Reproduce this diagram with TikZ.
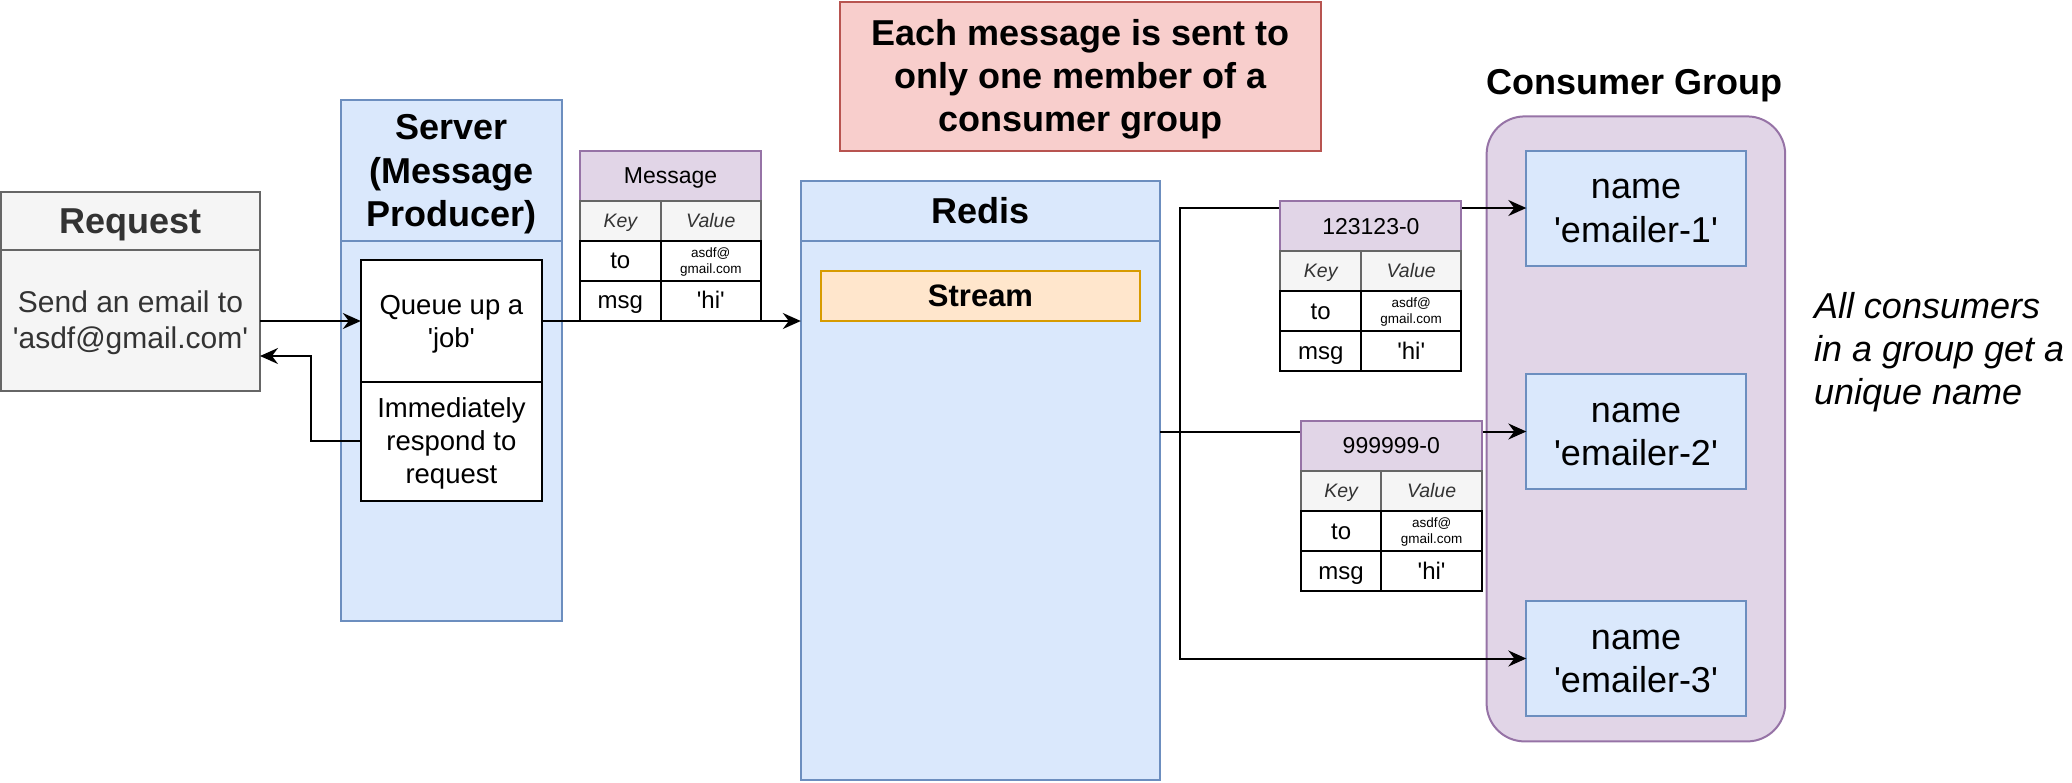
\documentclass[tikz,border=0pt]{standalone}
\usepackage{fontspec}
\newfontfamily\lsans{Liberation Sans}
\usetikzlibrary{arrows.meta}
\definecolor{grayfill}{HTML}{F5F5F5}
\definecolor{grayline}{HTML}{666666}
\definecolor{graytext}{HTML}{333333}
\definecolor{bluefill}{HTML}{DAE8FC}
\definecolor{blueline}{HTML}{6C8EBF}
\definecolor{purplefill}{HTML}{E1D5E7}
\definecolor{purpleline}{HTML}{9673A6}
\definecolor{redfill}{HTML}{F8CECC}
\definecolor{redline}{HTML}{B85450}
\definecolor{orangefill}{HTML}{FFE6CC}
\definecolor{orangeline}{HTML}{D79B00}
\tikzset{
  every node/.style={inner sep=0pt, outer sep=0pt},
  boxed/.style={draw, line width=1pt},
  grayb/.style={boxed, draw=grayline, fill=grayfill, text=graytext},
  blueb/.style={boxed, draw=blueline, fill=bluefill},
  purpleb/.style={boxed, draw=purpleline, fill=purplefill},
  redb/.style={boxed, draw=redline, fill=redfill},
  orangeb/.style={boxed, draw=orangeline, fill=orangefill},
  whiteb/.style={boxed, draw=black, fill=white},
  % text styles (line box emulation: height/depth; multi-line baseline = last line)
  tbig/.style={font=\lsans\bfseries\fontsize{18}{21.6}\selectfont, text height=17.05pt, text depth=4.55pt},
  tbigiii/.style={font=\lsans\bfseries\fontsize{18}{21.6}\selectfont, align=center, text height=60.25pt, text depth=4.55pt},
  tregii/.style={font=\lsans\fontsize{18}{21.6}\selectfont, align=center, text height=38.65pt, text depth=4.55pt},
  titiii/.style={font=\lsans\itshape\fontsize{18}{21.6}\selectfont, align=left, text height=60.25pt, text depth=4.55pt},
  tbodyii/.style={font=\lsans\fontsize{15}{18}\selectfont, align=center, text height=32.2pt, text depth=3.8pt},
  tstream/.style={font=\lsans\bfseries\fontsize{15.5}{18.6}\selectfont, text height=14.68pt, text depth=3.92pt},
  tqii/.style={font=\lsans\fontsize{13.75}{16.5}\selectfont, align=center, text height=29.52pt, text depth=3.48pt},
  tqiii/.style={font=\lsans\fontsize{13.75}{16.5}\selectfont, align=center, text height=46.02pt, text depth=3.48pt},
  thead/.style={purpleb, minimum width=90.5pt, minimum height=25pt, font=\lsans\fontsize{11.5}{13.8}\selectfont, text height=10.9pt, text depth=2.9pt},
  tkey/.style={grayb, minimum height=20pt, font=\lsans\itshape\fontsize{9.75}{11.7}\selectfont, text height=9.23pt, text depth=2.47pt},
  tcell/.style={whiteb, minimum height=20pt, font=\lsans\fontsize{12}{14.4}\selectfont, text height=11.36pt, text depth=3.04pt},
  tsmall/.style={font=\lsans\fontsize{6.75}{8.1}\selectfont, align=center, text height=14.49pt, text depth=1.71pt},
  arr/.style={line width=1pt, -{Stealth[length=9pt,width=8pt,inset=3pt]}}
}
\newcommand{\kvtable}[4]{%
  \node[thead, anchor=north west] (#1h) at (#2,#3) {#4};
  \node[tkey, minimum width=40.3pt, anchor=north west] (#1k) at (#1h.south west) {Key};
  \node[tkey, minimum width=50.2pt, anchor=north west] (#1v) at (#1k.north east) {Value};
  \node[tcell, minimum width=40.3pt, anchor=north west] (#1a) at (#1k.south west) {to};
  \node[tcell, minimum width=50.2pt, anchor=north west, tsmall] (#1b) at (#1a.north east) {asdf@\\gmail.com};
  \node[tcell, minimum width=40.3pt, anchor=north west] (#1c) at (#1a.south west) {msg};
  \node[tcell, minimum width=50.2pt, anchor=north west] (#1d) at (#1c.north east) {'hi'};
}
\begin{document}
\begin{tikzpicture}[x=1pt,y=-1pt]
\useasboundingbox (0,0) rectangle (1036,391);

% Request
\node[grayb, tbig, minimum width=129.5pt, minimum height=29pt, anchor=north west] (reqh) at (0.5,96) {Request};
\node[grayb, tbodyii, minimum width=129.5pt, minimum height=70.5pt, anchor=north west] (req) at (reqh.south west) {Send an email to\\'asdf@gmail.com'};

% Server
\node[blueb, minimum width=110.5pt, minimum height=260.3pt, anchor=north west] (srv) at (170.5,50.2) {};
\node[blueb, tbigiii, minimum width=110.5pt, minimum height=70.1pt, anchor=north west] (srvh) at (170.5,50.2) {Server\\(Message\\Producer)};
\node[whiteb, tqii, minimum width=90.6pt, minimum height=61pt, anchor=north west] (q1) at (180.4,130) {Queue up a\\'job'};
\node[whiteb, tqiii, minimum width=90.6pt, minimum height=59.4pt, anchor=north west] (q2) at (q1.south west) {Immediately\\respond to\\request};

% Note
\node[redb, tbigiii, minimum width=240.5pt, minimum height=74.5pt, anchor=north west] (note) at (420,0.75) {Each message is sent to\\only one member of a\\consumer group};

% Redis
\node[blueb, minimum width=179.6pt, minimum height=299.5pt, anchor=north west] (redis) at (400.4,90.5) {};
\node[blueb, tbig, minimum width=179.6pt, minimum height=29.8pt, anchor=north west] (redish) at (400.4,90.5) {Redis};
\node[orangeb, tstream, minimum width=159.9pt, minimum height=25pt, anchor=north west] (stream) at (410.3,135.5) {Stream};

% Consumer group
\node[tbig] (cgt) at (817.3,41) {Consumer Group};
\node[purpleb, rounded corners=19pt, minimum width=149.3pt, minimum height=312.5pt, anchor=north west] (cg) at (743.3,58.2) {};
\node[blueb, tregii, minimum width=109.7pt, minimum height=57.5pt] (e1) at (818,104) {name\\'emailer-1'};
\node[blueb, tregii, minimum width=109.7pt, minimum height=57.5pt] (e2) at (818,215.75) {name\\'emailer-2'};
\node[blueb, tregii, minimum width=109.7pt, minimum height=57.5pt] (e3) at (818,329.25) {name\\'emailer-3'};
\node[titiii, anchor=west] (uniq) at (907,174.5) {All consumers\\in a group get a\\unique name};

% Connectors
\draw[arr] (req.east |- q1.west) -- (q1.west);
\coordinate (rt) at (155.3,178);
\draw[arr] (q2.west) -| (rt) -- (req.east |- rt);
\draw[arr] (q1.east) -- (redis.west |- q1.east);
\coordinate (j) at (590,215.75);
\draw[arr] (redis.east |- e2.west) -- (e2.west);
\draw[arr] (j) |- (e1.west);
\draw[arr] (j) |- (e3.west);

% Tables
\kvtable{m}{290}{75.3}{Message}
\kvtable{s}{640.2}{100.5}{123123-0}
\kvtable{t}{650.4}{210.4}{999999-0}
\end{tikzpicture}
\end{document}
